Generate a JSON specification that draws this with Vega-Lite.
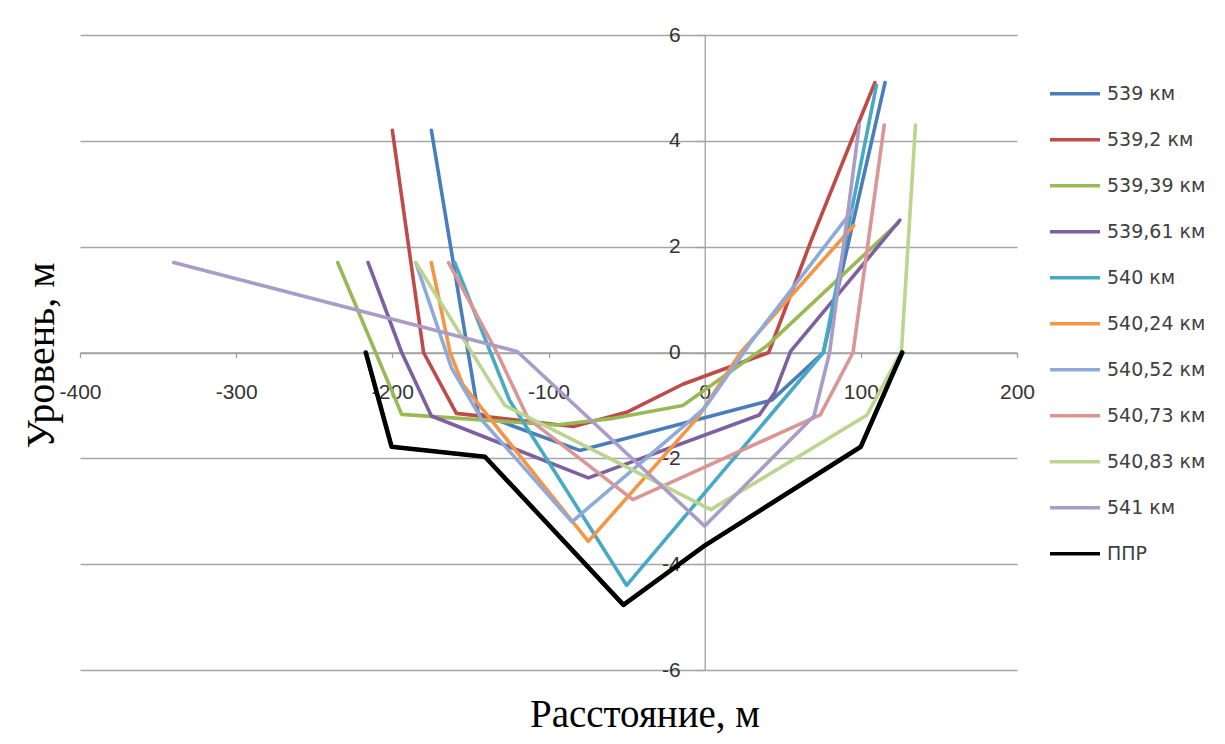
{
  "$schema": "https://vega.github.io/schema/vega-lite/v6.json",
  "width": 937,
  "height": 635,
  "autosize": {"type": "none"},
  "padding": {"left": 80, "top": 35, "right": 208, "bottom": 74},
  "background": "#ffffff",
  "config": {"view": {"stroke": null}},
  "data": {
    "values": [
      {"s": "539 км", "x": -175, "y": 4.2},
      {"s": "539 км", "x": -145, "y": -1.15},
      {"s": "539 км", "x": -80, "y": -1.85},
      {"s": "539 км", "x": 43, "y": -0.9},
      {"s": "539 км", "x": 76, "y": 0},
      {"s": "539 км", "x": 115.5, "y": 5.1},

      {"s": "539,2 км", "x": -200, "y": 4.2},
      {"s": "539,2 км", "x": -180, "y": 0},
      {"s": "539,2 км", "x": -159, "y": -1.15},
      {"s": "539,2 км", "x": -84, "y": -1.4},
      {"s": "539,2 км", "x": -50, "y": -1.13},
      {"s": "539,2 км", "x": -14, "y": -0.6},
      {"s": "539,2 км", "x": 41, "y": 0},
      {"s": "539,2 км", "x": 68, "y": 2.1},
      {"s": "539,2 км", "x": 98, "y": 4.3},
      {"s": "539,2 км", "x": 109, "y": 5.1},

      {"s": "539,39 км", "x": -235, "y": 1.7},
      {"s": "539,39 км", "x": -194, "y": -1.17},
      {"s": "539,39 км", "x": -95, "y": -1.37},
      {"s": "539,39 км", "x": -60, "y": -1.25},
      {"s": "539,39 км", "x": -14, "y": -1.0},
      {"s": "539,39 км", "x": 40, "y": 0.13},
      {"s": "539,39 км", "x": 124, "y": 2.45},

      {"s": "539,61 км", "x": -215.5, "y": 1.7},
      {"s": "539,61 км", "x": -194, "y": 0},
      {"s": "539,61 км", "x": -175, "y": -1.2},
      {"s": "539,61 км", "x": -74.5, "y": -2.37},
      {"s": "539,61 км", "x": 35, "y": -1.18},
      {"s": "539,61 км", "x": 45, "y": -0.75},
      {"s": "539,61 км", "x": 55, "y": 0.02},
      {"s": "539,61 км", "x": 125, "y": 2.5},

      {"s": "540 км", "x": -160, "y": 1.7},
      {"s": "540 км", "x": -125, "y": -0.9},
      {"s": "540 км", "x": -50, "y": -4.4},
      {"s": "540 км", "x": 76, "y": 0},
      {"s": "540 км", "x": 110, "y": 5.05},

      {"s": "540,24 км", "x": -175, "y": 1.7},
      {"s": "540,24 км", "x": -163, "y": 0},
      {"s": "540,24 км", "x": -155, "y": -0.6},
      {"s": "540,24 км", "x": -74.5, "y": -3.57},
      {"s": "540,24 км", "x": -5, "y": -1.25},
      {"s": "540,24 км", "x": 23, "y": 0},
      {"s": "540,24 км", "x": 95.5, "y": 2.4},

      {"s": "540,52 км", "x": -185, "y": 1.7},
      {"s": "540,52 км", "x": -162, "y": -0.3},
      {"s": "540,52 км", "x": -142, "y": -1.3},
      {"s": "540,52 км", "x": -85, "y": -3.2},
      {"s": "540,52 км", "x": 0, "y": -1.05},
      {"s": "540,52 км", "x": 31, "y": 0.25},
      {"s": "540,52 км", "x": 95, "y": 2.7},

      {"s": "540,73 км", "x": -164, "y": 1.7},
      {"s": "540,73 км", "x": -133, "y": 0},
      {"s": "540,73 км", "x": -113, "y": -1.25},
      {"s": "540,73 км", "x": -46, "y": -2.78},
      {"s": "540,73 км", "x": 74, "y": -1.18},
      {"s": "540,73 км", "x": 95, "y": 0},
      {"s": "540,73 км", "x": 115, "y": 4.3},

      {"s": "540,83 км", "x": -185, "y": 1.7},
      {"s": "540,83 км", "x": -128, "y": -1.0},
      {"s": "540,83 км", "x": 4, "y": -2.97},
      {"s": "540,83 км", "x": 104, "y": -1.18},
      {"s": "540,83 км", "x": 126, "y": 0.02},
      {"s": "540,83 км", "x": 135, "y": 4.3},

      {"s": "541 км", "x": -340, "y": 1.7},
      {"s": "541 км", "x": -120, "y": 0.02},
      {"s": "541 км", "x": 0, "y": -3.28},
      {"s": "541 км", "x": 70, "y": -1.2},
      {"s": "541 км", "x": 80, "y": 0},
      {"s": "541 км", "x": 99, "y": 4.3},

      {"s": "ППР", "x": -217, "y": 0},
      {"s": "ППР", "x": -200.5, "y": -1.78},
      {"s": "ППР", "x": -140.7, "y": -1.97},
      {"s": "ППР", "x": -52, "y": -4.77},
      {"s": "ППР", "x": 0, "y": -3.65},
      {"s": "ППР", "x": 100, "y": -1.78},
      {"s": "ППР", "x": 126.5, "y": 0}
    ]
  },
  "encoding": {
    "x": {
      "field": "x",
      "type": "quantitative",
      "scale": {"domain": [-400, 200], "nice": false, "zero": false},
      "axis": {
        "orient": "bottom",
        "offset": -317.5,
        "values": [-400, -300, -200, -100, 0, 100, 200],
        "labelExpr": "'' + datum.value",
        "grid": false,
        "domainColor": "#A0A0A0",
        "domainWidth": 1.3,
        "tickColor": "#A0A0A0",
        "tickWidth": 1.3,
        "tickSize": 5,
        "labelFont": "Liberation Sans",
        "labelFontSize": 21,
        "labelColor": "#333333",
        "labelPadding": 24,
        "labelFlush": false,
        "labelOverlap": false,
        "labelBound": false,
        "title": "Расстояние, м",
        "titleFont": "Liberation Serif",
        "titleFontSize": 39,
        "titleFontWeight": "normal",
        "titleColor": "#000000",
        "titleX": 564.5,
        "titleY": 374,
        "titleBaseline": "alphabetic",
        "titleAlign": "center"
      }
    },
    "y": {
      "field": "y",
      "type": "quantitative",
      "scale": {"domain": [-6, 6], "nice": false, "zero": false},
      "axis": {
        "orient": "left",
        "offset": -624.7,
        "values": [-6, -4, -2, 0, 2, 4, 6],
        "labelExpr": "'' + datum.value",
        "grid": true,
        "gridColor": "#A6A6A6",
        "gridWidth": 1.3,
        "domainColor": "#A0A0A0",
        "domainWidth": 1.3,
        "tickColor": "#A0A0A0",
        "tickWidth": 1.3,
        "tickSize": 8,
        "labelFont": "Liberation Sans",
        "labelFontSize": 21,
        "labelColor": "#333333",
        "labelPadding": 16.5,
        "labelFlush": false,
        "labelOverlap": false,
        "labelBound": false,
        "title": "Уровень, м",
        "titleFont": "Liberation Serif",
        "titleFontSize": 40,
        "titleFontWeight": "normal",
        "titleColor": "#000000",
        "titleX": -651.7,
        "titleY": 320,
        "titleAngle": 270,
        "titleBaseline": "alphabetic",
        "titleAlign": "center"
      }
    },
    "color": {
      "field": "s",
      "type": "nominal",
      "scale": {
        "domain": ["539 км", "539,2 км", "539,39 км", "539,61 км", "540 км", "540,24 км", "540,52 км", "540,73 км", "540,83 км", "541 км", "ППР"],
        "range": ["#4A7EBB", "#BE4B48", "#98B954", "#7D60A0", "#46AAC5", "#F69544", "#8EAADA", "#DA9694", "#BBD58F", "#AA9BC9", "#000000"]
      },
      "legend": {
        "orient": "none",
        "legendX": 968,
        "legendY": 36,
        "title": null,
        "symbolType": "stroke",
        "symbolSize": 2500,
        "symbolStrokeWidth": 3.6,
        "clipHeight": 45.6,
        "rowPadding": 0,
        "padding": 0,
        "labelFont": "DejaVu Sans",
        "labelFontSize": 19,
        "labelColor": "#404040",
        "labelOffset": 5,
        "labelLimit": 200
      }
    }
  },
  "layer": [
    {
      "mark": {"type": "line", "strokeWidth": 3.6, "strokeJoin": "round", "strokeCap": "round"}
    },
    {
      "transform": [{"filter": "datum.s === 'ППР'"}],
      "mark": {"type": "line", "strokeWidth": 4.6, "strokeJoin": "round", "strokeCap": "round"}
    }
  ]
}
